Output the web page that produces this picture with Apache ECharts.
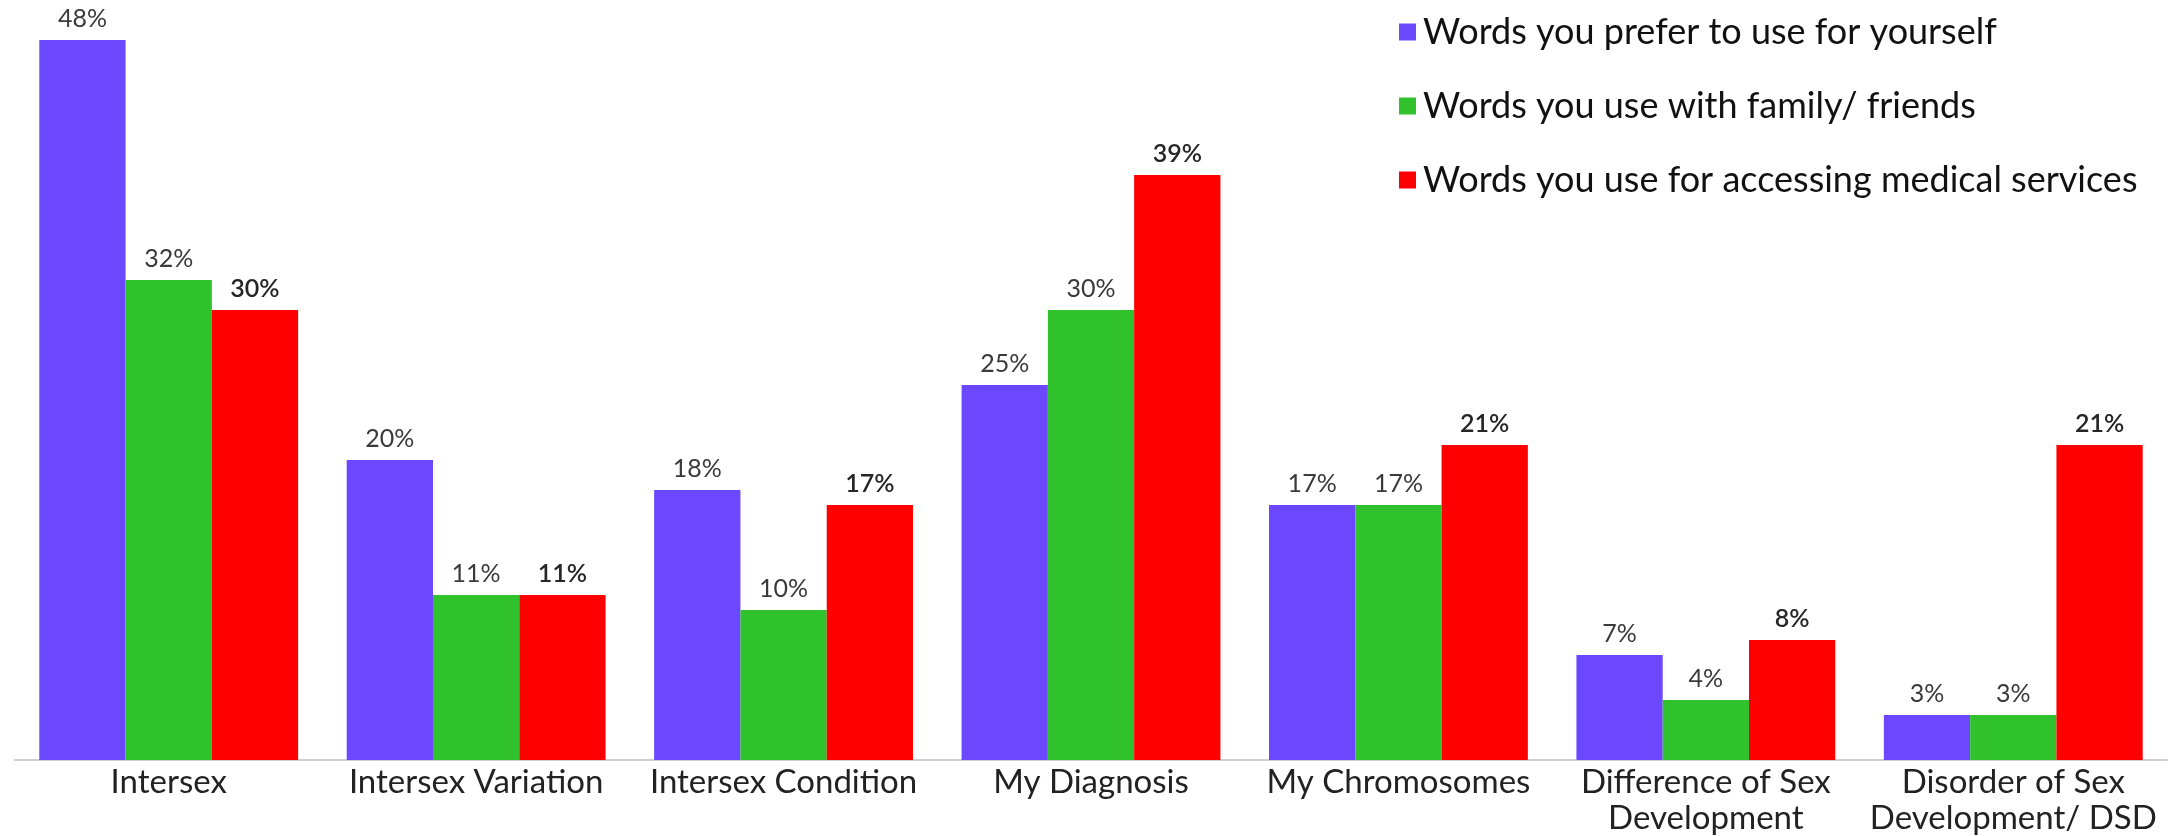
<!DOCTYPE html>
<html><head><meta charset="utf-8">
<script src="https://cdn.jsdelivr.net/npm/echarts@6/dist/echarts.min.js"></script>
<style>html,body{margin:0;padding:0;background:#fff}#c{width:2180px;height:836px}</style>
</head><body><div id="c"></div>
<script>
const categories = ["Intersex", "Intersex Variation", "Intersex Condition", "My Diagnosis", "My Chromosomes", "Difference of Sex\nDevelopment", "Disorder of Sex\nDevelopment/ DSD"];
const seriesNames = ["Words you prefer to use for yourself", "Words you use with family/ friends", "Words you use for accessing medical services"];
const yourself = [48, 20, 18, 25, 17, 7, 3];
const family = [32, 11, 10, 30, 17, 4, 3];
const medical = [30, 11, 17, 39, 21, 8, 21];
const colors = ["#6b48ff", "#30c22c", "#ff0000"];

const FONT = "Lato";
function mk(name, data, color, dark) {
  return {
    name: name, type: 'bar', data: data, barGap: '0%', barCategoryGap: '15.8%',
    itemStyle: { color: color },
    label: { show: true, position: 'top', distance: 9, formatter: '{c}%', fontFamily: FONT,
             fontSize: 25, color: dark ? '#262626' : '#3a3a3a', fontWeight: dark ? 600 : 'normal' },
    emphasis: { disabled: true }
  };
}
const chart = echarts.init(document.getElementById('c'), null, { renderer: 'canvas' });
chart.setOption({
  animation: false,
  backgroundColor: '#fff',
  grid: { left: 15, right: 13, top: 40, bottom: 73, containLabel: false },
  legend: {
    orient: 'vertical', left: 1394, top: 9, itemWidth: 17, itemHeight: 17, itemGap: 38,
    icon: 'rect',
    textStyle: { fontFamily: FONT, fontSize: 36, color: '#111', padding: [0, 0, 0, 2] },
    data: seriesNames
  },
  xAxis: {
    type: 'category', data: categories,
    axisLine: { lineStyle: { color: '#cfcfcf', width: 2 } },
    axisTick: { show: false },
    axisLabel: { fontFamily: FONT, fontSize: 33, color: '#222', lineHeight: 36, margin: 4, interval: 0 }
  },
  yAxis: { type: 'value', min: 0, max: 48, show: false, splitLine: { show: false } },
  series: [mk(seriesNames[0], yourself, colors[0], false), mk(seriesNames[1], family, colors[1], false), mk(seriesNames[2], medical, colors[2], true)]
});
</script></body></html>
